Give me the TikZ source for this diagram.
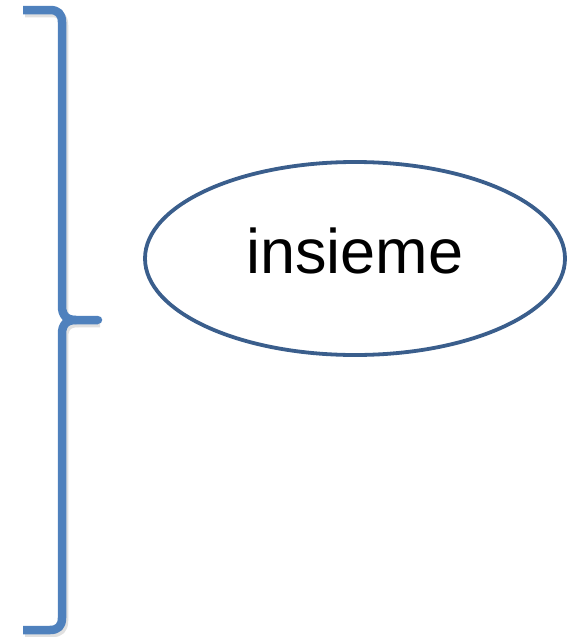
\documentclass[tikz,border=0pt]{standalone}
\usepackage{fontspec}
\setmainfont{Liberation Sans}
\usetikzlibrary{shapes.geometric}
\definecolor{bracecol}{HTML}{4F81BD}
\definecolor{ellcol}{HTML}{3A5E8C}
\tikzset{
  bracestyle/.style={draw=bracecol, line width=8.5pt, line join=round},
  setnode/.style={ellipse, draw=ellcol, line width=3.8pt, minimum width=420pt, minimum height=193pt, inner sep=0pt, font=\fontsize{63}{70}\selectfont}
}
\begin{document}
\begin{tikzpicture}[x=1pt,y=-1pt]
\useasboundingbox (0,0) rectangle (574,637);
% soft shadow of brace
\begin{scope}[shift={(2,3)}]
\draw[draw=black!12, line width=8.5pt, line join=round] (23,10) -- (50,10) .. controls (58,10) and (62,14) .. (62,22) -- (62,306) .. controls (62,315) and (66,320) .. (76,320) -- (98,320);
\draw[draw=black!12, line width=8.5pt, line join=round] (23,630) -- (50,630) .. controls (58,630) and (62,626) .. (62,618) -- (62,334) .. controls (62,325) and (66,320) .. (76,320);
\end{scope}
\draw[bracestyle] (23,10) -- (50,10) .. controls (58,10) and (62,14) .. (62,22) -- (62,306) .. controls (62,315) and (66,320) .. (76,320) -- (98,320);
\draw[bracestyle] (23,630) -- (50,630) .. controls (58,630) and (62,626) .. (62,618) -- (62,334) .. controls (62,325) and (66,320) .. (76,320);
\draw[bracestyle, line cap=round] (76,320) -- (98,320);
\node[setnode] (set) at (355,258.5) {};
\node[font=\fontsize{63}{70}\selectfont, anchor=base] (lbl) at (355,273) {insieme};
\end{tikzpicture}
\end{document}
